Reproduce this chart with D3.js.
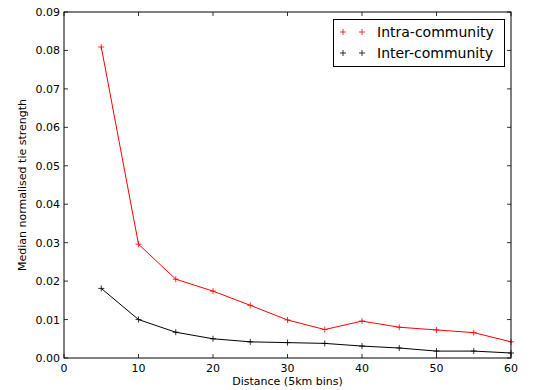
<!DOCTYPE html>
<html><head><meta charset="utf-8">
<script src="https://cdn.jsdelivr.net/npm/d3@7"></script>
<style>body{margin:0;background:#fff}svg{display:block}text{font-family:"DejaVu Sans",sans-serif}</style>
</head><body><svg id="c" width="533" height="390"></svg>
<script>
const distances = [5,10,15,20,25,30,35,40,45,50,55,60];
const intra = [0.0809,0.0296,0.0205,0.0174,0.0137,0.0099,0.0074,0.0096,0.0080,0.0073,0.0066,0.0042];
const inter = [0.0181,0.0100,0.0067,0.0050,0.0042,0.0040,0.0038,0.0031,0.0026,0.0018,0.0018,0.0013];
const xTicks = [0,10,20,30,40,50,60];
const yTicks = [0,0.01,0.02,0.03,0.04,0.05,0.06,0.07,0.08,0.09];
const seriesNames = ["Intra-community","Inter-community"];
const seriesColors = ["#ff0000","#000000"];

const svg = d3.select("#c");
const L=64,R=511,T=12,B=358;
const x = d3.scaleLinear().domain([0,60]).range([L,R]);
const y = d3.scaleLinear().domain([0,0.09]).range([B,T]);

svg.append("rect").attr("x",L).attr("y",T).attr("width",R-L).attr("height",B-T).attr("fill","#fff");

const tl=4;
// ticks inside on all sides
const g = svg.append("g").attr("stroke","#000").attr("stroke-width",0.8);
xTicks.forEach(v=>{
  g.append("line").attr("x1",x(v)).attr("x2",x(v)).attr("y1",B).attr("y2",B-tl);
  g.append("line").attr("x1",x(v)).attr("x2",x(v)).attr("y1",T).attr("y2",T+tl);
});
yTicks.forEach(v=>{
  g.append("line").attr("x1",L).attr("x2",L+tl).attr("y1",y(v)).attr("y2",y(v));
  g.append("line").attr("x1",R).attr("x2",R-tl).attr("y1",y(v)).attr("y2",y(v));
});
svg.selectAll(".xt").data(xTicks).enter().append("text")
  .attr("x",d=>x(d)).attr("y",B+14).attr("text-anchor","middle").attr("font-size",11).text(d=>d);
svg.selectAll(".yt").data(yTicks).enter().append("text")
  .attr("x",L-4).attr("y",d=>y(d)+4).attr("text-anchor","end").attr("font-size",11).text(d=>d.toFixed(2));

const series=[intra,inter];
const line = d3.line().x((d,i)=>x(distances[i])).y(d=>y(d));
series.forEach((s,k)=>{
  svg.append("path").datum(s).attr("d",line).attr("fill","none").attr("stroke",seriesColors[k]).attr("stroke-width",1);
  const ms = svg.append("g").attr("stroke",seriesColors[k]).attr("stroke-width",0.8);
  s.forEach((v,i)=>{
    const cx=x(distances[i]), cy=y(v);
    ms.append("line").attr("x1",cx-3).attr("x2",cx+3).attr("y1",cy).attr("y2",cy);
    ms.append("line").attr("x1",cx).attr("x2",cx).attr("y1",cy-3).attr("y2",cy+3);
  });
});

svg.append("rect").attr("x",L).attr("y",T).attr("width",R-L).attr("height",B-T)
  .attr("fill","none").attr("stroke","#000").attr("stroke-width",1);

// legend
const lg = svg.append("g");
lg.append("rect").attr("x",333.5).attr("y",19.5).attr("width",171).attr("height",47).attr("fill","#fff").attr("stroke","#000").attr("stroke-width",1);
seriesNames.forEach((n,k)=>{
  const yy = 32+k*21;
  [343,362].forEach(mx=>{
    lg.append("line").attr("x1",mx-3).attr("x2",mx+3).attr("y1",yy).attr("y2",yy).attr("stroke",seriesColors[k]).attr("stroke-width",0.8);
    lg.append("line").attr("x1",mx).attr("x2",mx).attr("y1",yy-3).attr("y2",yy+3).attr("stroke",seriesColors[k]).attr("stroke-width",0.8);
  });
  lg.append("text").attr("x",377).attr("y",yy+5).attr("font-size",14).text(n);
});

svg.append("text").attr("x",(L+R)/2).attr("y",385).attr("text-anchor","middle").attr("font-size",11).text("Distance (5km bins)");
svg.append("text").attr("transform",`translate(26,${(T+B)/2}) rotate(-90)`).attr("text-anchor","middle").attr("font-size",11).text("Median normalised tie strength");
</script></body></html>
